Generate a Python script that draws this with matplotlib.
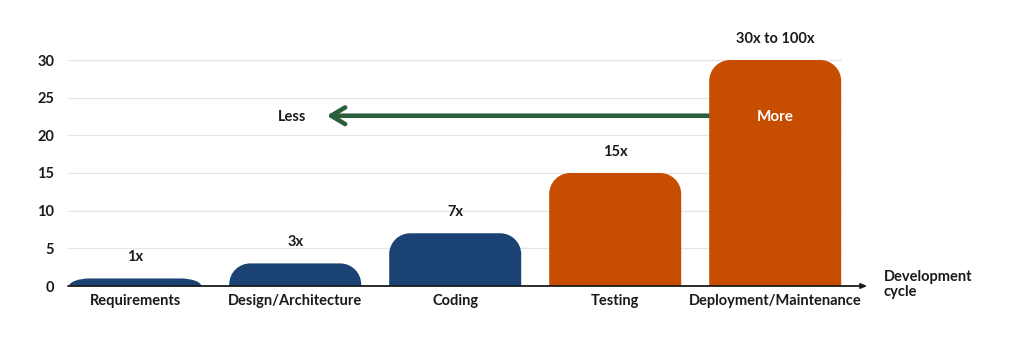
import matplotlib.pyplot as plt
from matplotlib.path import Path
from matplotlib.patches import PathPatch

plt.rcParams['font.family'] = ['Lato', 'DejaVu Sans']

stages = ['Requirements', 'Design/Architecture', 'Coding', 'Testing', 'Deployment/Maintenance']
cost = [1, 3, 7, 15, 30]
cost_labels = ['1x', '3x', '7x', '15x', '30x to 100x']
bar_colors = ['#1a4373', '#1a4373', '#1a4373', '#c74d00', '#c74d00']
yticks = [0, 5, 10, 15, 20, 25, 30]

BAR_W = 0.825
RADIUS_PX = 21
K = 0.5523  # bezier approximation of a quarter circle

fig = plt.figure(figsize=(10.24, 3.61), dpi=100)
ax = fig.add_axes([68 / 1024, 75 / 361, 800 / 1024, 226 / 361])
ax.set_xlim(-0.42, 4.58)
ax.set_ylim(0, 30)

# pixels per data unit
px_x = 800 / 5.0
px_y = 226 / 30.0


def rounded_bar(ax, xc, h, color):
    # bar with rounded top corners only
    x0, x1 = xc - BAR_W / 2, xc + BAR_W / 2
    rx = RADIUS_PX / px_x
    ry = min(RADIUS_PX / px_y, h)
    verts = [
        (x0, 0), (x0, h - ry),
        (x0, h - ry + K * ry), (x0 + rx - K * rx, h), (x0 + rx, h),
        (x1 - rx, h),
        (x1 - rx + K * rx, h), (x1, h - ry + K * ry), (x1, h - ry),
        (x1, 0), (x0, 0),
    ]
    codes = [Path.MOVETO, Path.LINETO,
             Path.CURVE4, Path.CURVE4, Path.CURVE4,
             Path.LINETO,
             Path.CURVE4, Path.CURVE4, Path.CURVE4,
             Path.LINETO, Path.CLOSEPOLY]
    ax.add_patch(PathPatch(Path(verts, codes), facecolor=color, edgecolor='none', zorder=3))


# grid lines
for t in yticks[1:]:
    ax.plot([-0.42, 4.41], [t, t], color='#e5e5e5', lw=0.9, zorder=1, clip_on=False)

# less/more arrow, behind the last bar
ax.annotate('', xy=(1.18, 22.6), xytext=(3.7, 22.6),
            arrowprops=dict(arrowstyle='->,head_length=1.0,head_width=0.6',
                            color='#2b5f3c', lw=3.3, capstyle='round', joinstyle='round'),
            zorder=2)
ax.text(0.98, 22.4, 'Less', ha='center', va='center', fontsize=10.5,
        fontweight='bold', color='#1a1a1a')

for i, (h, lab, c) in enumerate(zip(cost, cost_labels, bar_colors)):
    rounded_bar(ax, i, h, c)
    ax.text(i, h + 2.8, lab, ha='center', va='center', fontsize=10.5,
            fontweight='bold', color='#1a1a1a', clip_on=False)

ax.text(4, 22.4, 'More', ha='center', va='center', fontsize=11,
        fontweight='bold', color='white', zorder=4)

# x axis line with small arrow
ax.annotate('', xy=(4.575, 0), xytext=(-0.42, 0),
            arrowprops=dict(arrowstyle='-|>,head_length=0.35,head_width=0.15',
                            color='#1a1a1a', lw=1.3, shrinkA=0, shrinkB=0),
            annotation_clip=False, zorder=5)
ax.text(4.68, 0.2, 'Development\ncycle', ha='left', va='center', fontsize=10.5,
        fontweight='bold', color='#1a1a1a', linespacing=1.05, clip_on=False)

ax.set_xticks(range(len(stages)))
ax.set_xticklabels(stages, fontsize=10.5, fontweight='bold', color='#1a1a1a')
ax.set_yticks(yticks)
ax.set_yticklabels([str(t) for t in yticks], fontsize=10.5, fontweight='bold', color='#1a1a1a')
ax.tick_params(axis='both', length=0)
ax.tick_params(axis='x', pad=6)
ax.tick_params(axis='y', pad=10)
for s in ax.spines.values():
    s.set_visible(False)

fig.savefig('out.png', dpi=100)
